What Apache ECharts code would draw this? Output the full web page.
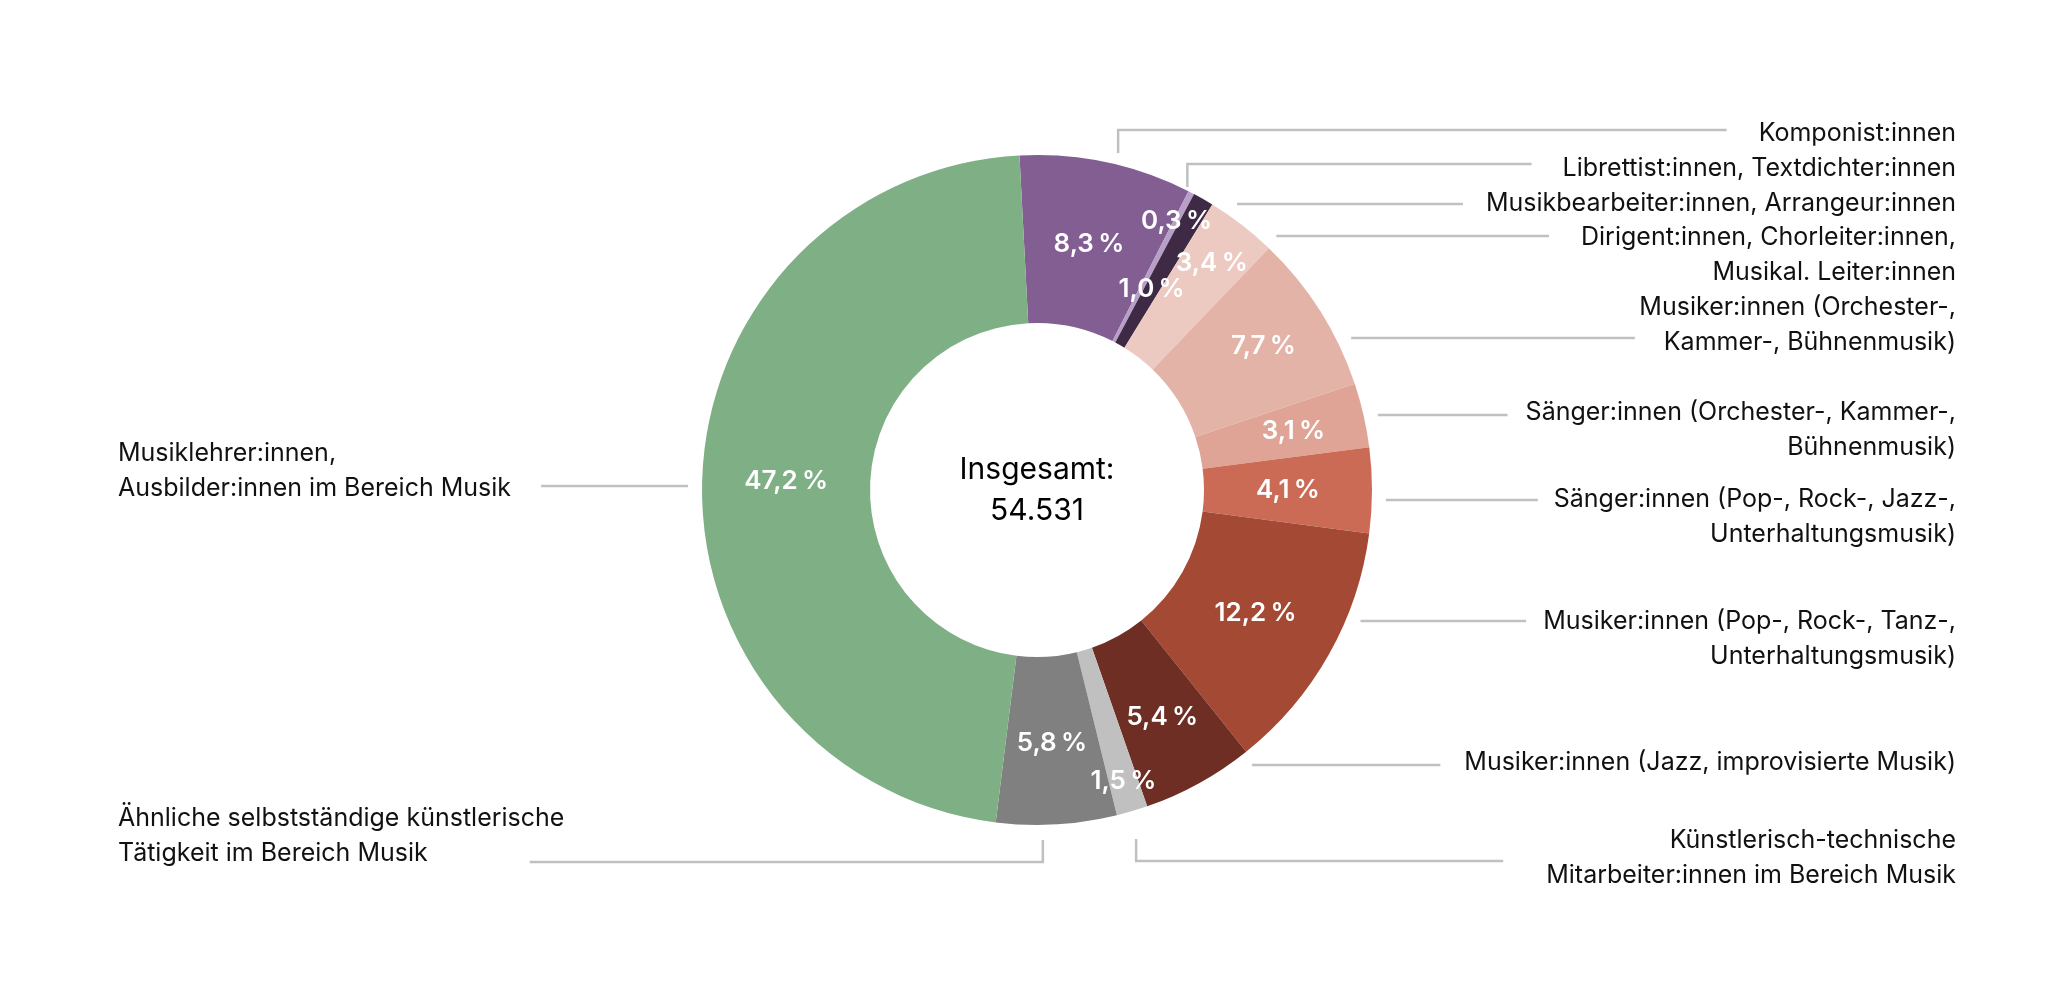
<!DOCTYPE html>
<html><head><meta charset="utf-8">
<script src="https://cdn.jsdelivr.net/npm/echarts@6/dist/echarts.min.js"></script>
<style>html,body{margin:0;padding:0;background:#fff}#c{width:2050px;height:1000px}</style>
</head><body><div id="c"></div>
<script>
// ---------- data ----------
const categories = [
  'Komponist:innen',
  'Librettist:innen, Textdichter:innen',
  'Musikbearbeiter:innen, Arrangeur:innen',
  'Dirigent:innen, Chorleiter:innen,\nMusikal. Leiter:innen',
  'Musiker:innen (Orchester-,\nKammer-, Bühnenmusik)',
  'Sänger:innen (Orchester-, Kammer-,\nBühnenmusik)',
  'Sänger:innen (Pop-, Rock-, Jazz-,\nUnterhaltungsmusik)',
  'Musiker:innen (Pop-, Rock-, Tanz-,\nUnterhaltungsmusik)',
  'Musiker:innen (Jazz, improvisierte Musik)',
  'Künstlerisch-technische\nMitarbeiter:innen im Bereich Musik',
  'Ähnliche selbstständige künstlerische\nTätigkeit im Bereich Musik',
  'Musiklehrer:innen,\nAusbilder:innen im Bereich Musik'
];
const shares = [8.3, 0.3, 1.0, 3.4, 7.7, 3.1, 4.1, 12.2, 5.4, 1.5, 5.8, 47.2];
const total = 54531;
const centerTitle = 'Insgesamt:';

// ---------- styles / layout ----------
const colors = ['#835e92', '#b79fc7', '#3f2a45', '#eccac2', '#e4b3a7', '#dfa496',
                '#cb6b55', '#a44934', '#6e2e23', '#c0c0c0', '#808080', '#7faf85'];
const labelSide  = ['r','r','r','r','r','r','r','r','r','r','l','l'];
const labelY     = [133, 168, 203, 237, 307, 412, 499, 621, 762, 840, 818, 453];
const leaderY    = [130, 164, 204, 236, 338, 415, 500, 621, 765, 861, 862, 486];
const leaderKind = ['v','v','h','h','h','h','h','h','h','v','v','h'];
const leaderGap  = [32, 31, 23, 32, 29, 18, 16, 17, 24, 43, 102, 30];
const leaderAngAdj = [1.5, -1.9, 0, 0, 0, 0, 0, 0, 0, 0, 2.4, 0];
const pctShift   = [0, 52, -20, 35, 17, 12, 0, 0, 8, 53, 3, 0];

const CX = 1037, CY = 490, R0 = 167, R = 335, START = 93;
const RIGHT_X = 1956, LEFT_X = 118;
const FONT = 'Inter';
const LABEL_SIZE = 25, LINE_H = 35;

// mid angles (clockwise from 12 o'clock, degrees)
const sum = shares.reduce((a, b) => a + b, 0);
let acc = 0;
const midDeg = shares.map(v => { const m = acc + v / 2; acc += v; return (90 - START) + 360 * m / sum; });

const ctx = document.createElement('canvas').getContext('2d');
ctx.font = LABEL_SIZE + 'px ' + FONT;
const fmtPct = v => v.toFixed(1).replace('.', ',') + '\u2009%';
const fmtInt = n => String(n).replace(/\B(?=(\d{3})+(?!\d))/g, '.');

const chart = echarts.init(document.getElementById('c'), null, {renderer: 'canvas'});

const innerData = shares.map((v, i) => ({
  value: v, name: categories[i], itemStyle: {color: colors[i]}
}));
const outerData = shares.map((v, i) => ({value: v, name: categories[i]}));

function pctLayout(params) {
  const i = params.dataIndex;
  const a = midDeg[i] * Math.PI / 180;
  const r = (R0 + R) / 2 + pctShift[i];
  return {
    x: CX + r * Math.sin(a), y: CY - r * Math.cos(a),
    align: 'center', verticalAlign: 'middle'
  };
}

function leaderLayout(params) {
  const i = params.dataIndex;
  const right = labelSide[i] === 'r';
  const lines = categories[i].split('\n');
  const ly = leaderY[i];
  let k = 0, best = 1e9;
  lines.forEach((t, j) => { const d = Math.abs(labelY[i] + j * LINE_H - ly); if (d < best) { best = d; k = j; } });
  const w = ctx.measureText(lines[k]).width;
  const endX = right ? RIGHT_X - w - leaderGap[i] : LEFT_X + w + leaderGap[i];
  const Rg = R + 14;
  let pts;
  if (leaderKind[i] === 'v') {
    const a = (midDeg[i] + leaderAngAdj[i]) * Math.PI / 180;
    const x = CX + Rg * Math.sin(a);
    const up = Math.cos(a) > 0;
    const y0 = up ? ly + 23 : ly - 22;
    pts = [[x, y0], [x, ly], [endX, ly]];
  } else {
    const dy = ly - CY;
    const dx = Math.sqrt(Math.max(0, Rg * Rg - dy * dy));
    const x = right ? CX + dx : CX - dx;
    pts = [[x, ly], [(x + endX) / 2, ly], [endX, ly]];
  }
  return {
    x: right ? RIGHT_X : LEFT_X,
    y: labelY[i] - LINE_H / 2,
    align: right ? 'right' : 'left',
    verticalAlign: 'top',
    labelLinePoints: pts
  };
}

chart.setOption({
  animation: false,
  backgroundColor: '#ffffff',
  series: [
    {
      type: 'pie', center: [CX, CY], radius: [R0, R], startAngle: START, clockwise: true,
      silent: true, avoidLabelOverlap: false, emphasis: {disabled: true},
      itemStyle: {borderWidth: 0},
      label: {
        show: true, position: 'outside', color: '#ffffff',
        fontFamily: FONT, fontSize: 26, fontWeight: 600,
        formatter: p => fmtPct(p.value)
      },
      labelLine: {show: false},
      labelLayout: pctLayout,
      data: innerData, z: 2
    },
    {
      type: 'pie', center: [CX, CY], radius: [R0, R], startAngle: START, clockwise: true,
      silent: true, avoidLabelOverlap: false, emphasis: {disabled: true},
      itemStyle: {color: 'rgba(0,0,0,0)', borderWidth: 0},
      label: {
        show: true, position: 'outside', formatter: '{b}',
        color: '#111111', fontFamily: FONT, fontSize: LABEL_SIZE, lineHeight: LINE_H
      },
      labelLine: {show: true, smooth: false, length: 10, length2: 10,
                  lineStyle: {color: '#c0c0c0', width: 2.5}},
      labelLayout: leaderLayout,
      data: outerData, z: 3
    },
    {
      type: 'pie', center: [CX, CY], radius: [0, R0 - 2],
      silent: true, emphasis: {disabled: true},
      itemStyle: {color: 'rgba(0,0,0,0)', borderWidth: 0},
      label: {
        show: true, position: 'center', color: '#000000',
        fontFamily: FONT, fontSize: 30, lineHeight: 41,
        formatter: () => centerTitle + '\n' + fmtInt(total)
      },
      labelLine: {show: false},
      data: [{value: total, name: centerTitle}], z: 4
    }
  ]
});
</script></body></html>
